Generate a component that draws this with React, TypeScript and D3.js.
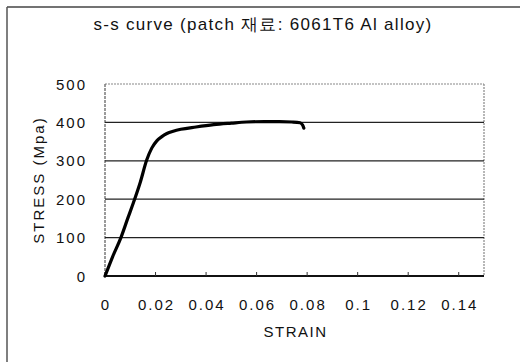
import React from "react";
import * as d3 from "d3";

const strain = [0, 0.0005, 0.003, 0.0063, 0.009, 0.0112, 0.014, 0.0165, 0.0185, 0.0205, 0.0225, 0.0245, 0.027, 0.030, 0.036, 0.043, 0.050, 0.056, 0.063, 0.069, 0.074, 0.0772, 0.0782, 0.0787];
const stress = [0, 8, 50, 100, 150, 190, 245, 302, 333, 352, 363, 371, 377, 382, 388, 394, 398, 401, 402, 402, 401, 399, 393, 385];
const xTicks = [0, 0.02, 0.04, 0.06, 0.08, 0.1, 0.12, 0.14];
const yTicks = [0, 100, 200, 300, 400, 500];
const title = "s-s curve (patch 재료: 6061T6 Al alloy)";
const xTitle = "STRAIN";
const yTitle = "STRESS (Mpa)";

export default function App() {
  const W = 520, H = 362;
  const left = 105, right = 484, top = 84, bottom = 276;
  const x = d3.scaleLinear().domain([0, 0.15]).range([left, right]);
  const y = d3.scaleLinear().domain([0, 500]).range([bottom, top]);
  const pts: [number, number][] = strain.map((s, i) => [s, stress[i]]);
  const line = d3.line<[number, number]>().x(d => x(d[0])).y(d => y(d[1])).curve(d3.curveMonotoneX);
  const font = "'Liberation Sans', Arial, sans-serif";
  const fmt = (v: number) => String(v);
  return (
    <svg width={W} height={H} style={{ position: "absolute", left: 0, top: 0, background: "#fff" }} fontFamily={font}>
      <line x1={7} y1={7} x2={W} y2={7} stroke="#444" strokeWidth={1.5} />
      <line x1={7} y1={7} x2={7} y2={H} stroke="#555" strokeWidth={1.5} />
      <text x={263} y={30} textAnchor="middle" fontSize={17} letterSpacing={1.3} fill="#111">{title}</text>
      {/* plot frame */}
      <line x1={left} y1={top} x2={right} y2={top} stroke="#888" strokeWidth={1.2} strokeDasharray="2 1" />
      <line x1={right} y1={top} x2={right} y2={bottom} stroke="#888" strokeWidth={1.2} strokeDasharray="2 1" />
      <line x1={left} y1={top} x2={left} y2={bottom} stroke="#666" strokeWidth={1.3} strokeDasharray="3 1" />
      {yTicks.filter(v => v > 0 && v < 500).map(v => (
        <line key={v} x1={left} x2={right} y1={y(v)} y2={y(v)} stroke="#222" strokeWidth={1.2} />
      ))}
      <line x1={left} y1={bottom} x2={right} y2={bottom} stroke="#111" strokeWidth={2} />
      {xTicks.map(v => (
        <line key={v} x1={x(v)} x2={x(v)} y1={bottom} y2={bottom - 4} stroke="#333" strokeWidth={1} />
      ))}
      {yTicks.map(v => (
        <text key={v} x={87} y={y(v)} textAnchor="end" dominantBaseline="central" fontSize={15} letterSpacing={2} fill="#111">{fmt(v)}</text>
      ))}
      {xTicks.map(v => (
        <text key={v} x={x(v) + 1} y={304} textAnchor="middle" dominantBaseline="central" fontSize={15} letterSpacing={2} fill="#111">{fmt(v)}</text>
      ))}
      <text x={(left + right) / 2 + 1} y={331} textAnchor="middle" dominantBaseline="central" fontSize={15} letterSpacing={1.5} fill="#111">{xTitle}</text>
      <text transform={`translate(38,${(top + bottom) / 2}) rotate(-90)`} textAnchor="middle" dominantBaseline="central" fontSize={15} letterSpacing={2} fill="#111">{yTitle}</text>
      <path d={line(pts) || ""} fill="none" stroke="#000" strokeWidth={3.2} strokeLinejoin="round" strokeLinecap="round" />
    </svg>
  );
}
